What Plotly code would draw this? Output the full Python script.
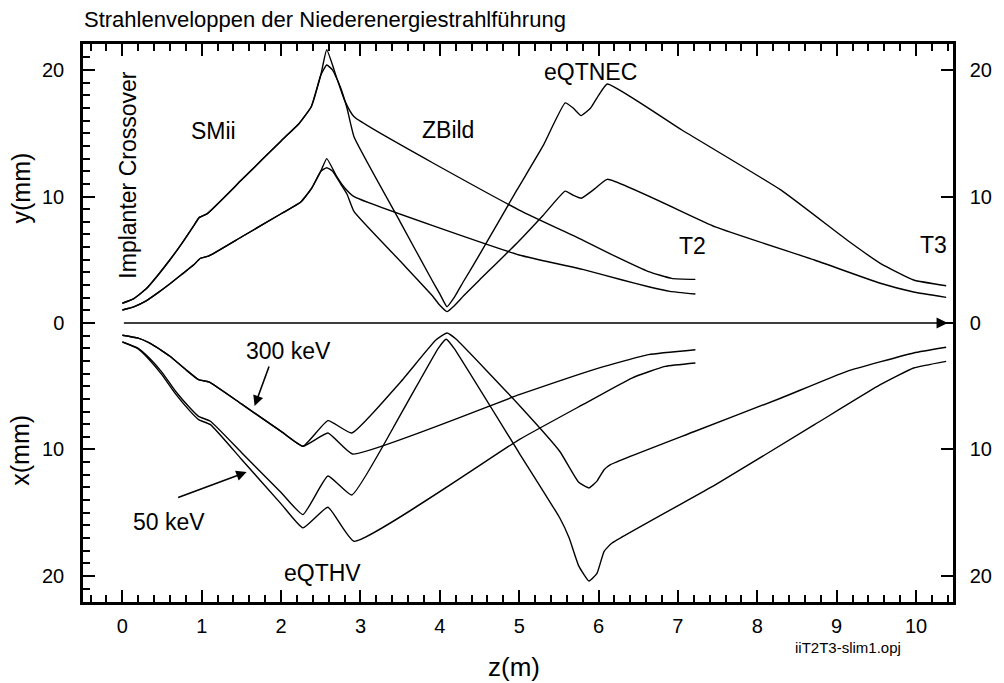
import plotly.graph_objects as go

# ---------------- data ----------------
# Upper half: y-envelope (mm), plotted upward
Z_UB_COMMON = [0.0, 0.15, 0.3, 0.45, 0.6, 0.75, 0.9, 0.97, 1.07, 1.5, 2.0, 2.23, 2.38, 2.5]
Y_UB_COMMON = [1.56, 1.95, 2.7, 3.8, 5.0, 6.3, 7.7, 8.35, 8.65, 11.3, 14.4, 15.8, 17.1, 19.6]

Z_UB_T2 = [2.575, 2.7, 2.8, 2.92, 5.0, 5.8, 6.22, 6.63, 6.92, 7.22]
Y_UB_T2 = [21.6, 19.4, 17.6, 16.3, 8.93, 6.56, 5.24, 4.06, 3.53, 3.45]

Z_UB_T3 = [2.575, 2.65, 2.75, 2.83, 2.92, 3.5, 3.9, 4.0, 4.09, 4.18, 4.3, 4.5, 4.97, 5.3,
           5.58, 5.68, 5.78, 5.9, 6.0, 6.11, 7.05, 8.3, 9.13, 9.55, 9.97, 10.38]
Y_UB_T3 = [20.4, 20.0, 18.6, 17.0, 14.7, 8.0, 3.4, 2.3, 1.29, 2.0, 3.3, 5.4, 10.5, 14.0,
           17.4, 17.0, 16.4, 17.0, 18.0, 18.9, 15.26, 10.5, 6.56, 4.72, 3.4, 2.95]

Z_US_COMMON = [0.0, 0.15, 0.3, 0.45, 0.6, 0.75, 0.9, 0.98, 1.09, 1.5, 2.0, 2.245, 2.38, 2.5]
Y_US_COMMON = [1.03, 1.3, 1.75, 2.4, 3.1, 3.85, 4.6, 5.1, 5.3, 6.8, 8.64, 9.54, 10.6, 12.0]

Z_US_T2 = [2.575, 2.7, 2.8, 2.92, 5.0, 5.8, 6.3, 6.63, 6.9, 7.22]
Y_US_T2 = [13.0, 11.6, 10.7, 9.99, 5.38, 4.24, 3.4, 2.87, 2.5, 2.29]

Z_US_T3 = [2.575, 2.65, 2.75, 2.83, 2.92, 3.5, 3.9, 4.0, 4.09, 4.18, 4.3, 4.5, 4.97, 5.3,
           5.58, 5.68, 5.78, 5.95, 6.11, 7.47, 8.72, 9.55, 9.97, 10.38]
Y_US_T3 = [12.28, 12.0, 11.0, 10.2, 8.8, 4.9, 2.2, 1.4, 0.9, 1.35, 2.15, 3.4, 6.3, 8.5,
           10.43, 10.1, 9.86, 10.6, 11.36, 7.6, 4.98, 3.14, 2.45, 2.03]

# Lower half: x-envelope (mm), plotted downward (negative)
Z_L300_COMMON = [0.0, 0.2, 0.34, 0.5, 0.6, 0.8, 0.96, 1.09, 1.5, 2.0, 2.275]
X_L300_COMMON = [-0.97, -1.2, -1.58, -2.2, -2.63, -3.69, -4.48, -4.66, -6.4, -8.57, -9.75]

Z_L300_T2 = [2.59, 2.9, 5.0, 6.01, 6.63, 7.22]
X_L300_T2 = [-8.7, -10.36, -5.67, -3.55, -2.5, -2.11]

Z_L300_T3 = [2.59, 2.89, 3.5, 3.95, 4.09, 4.2, 5.0, 5.51, 5.75, 5.88, 5.98, 6.07, 6.15,
             7.2, 8.3, 9.13, 9.97, 10.38]
X_L300_T3 = [-7.72, -8.7, -4.7, -1.35, -0.79, -1.25, -6.5, -10.14, -12.6, -13.04, -12.5, -11.6, -11.2,
             -8.6, -5.93, -3.82, -2.37, -1.92]

Z_L50A = [0.0, 0.2, 0.34, 0.5, 0.67, 0.85, 0.96, 1.11, 1.5, 2.0, 2.275, 2.59, 2.89, 3.5,
          3.98, 4.08, 4.18, 5.0, 5.51, 5.63, 5.75, 5.88, 5.98, 6.07, 6.17, 7.47, 8.72, 9.55, 9.97, 10.38]
X_L50A = [-1.5, -2.0, -2.77, -3.9, -5.4, -6.7, -7.38, -7.77, -10.24, -13.4, -15.15, -12.1, -13.6, -7.3,
          -2.0, -1.28, -2.0, -10.28, -15.4, -17.0, -19.2, -20.4, -19.8, -18.05, -17.4, -12.8, -8.04, -4.88, -3.56, -3.03]

Z_L50B = [0.0, 0.2, 0.34, 0.5, 0.67, 0.85, 0.96, 1.11, 1.5, 2.0, 2.275, 2.59, 2.92, 5.0,
          5.8, 6.42, 6.84, 7.22]
X_L50B = [-1.5, -2.05, -2.9, -4.1, -5.6, -6.95, -7.64, -8.04, -10.77, -14.3, -16.2, -14.57, -17.26, -9.22,
          -6.46, -4.35, -3.43, -3.16]

Y_TICKVALS = [-20, -10, 0, 10, 20]
Y_TICKTEXT = ["20", "10", "0", "10", "20"]

FONT = "Liberation Sans, Arial, Helvetica, sans-serif"

# ---------------- figure ----------------
fig = go.Figure()

curves = [
    (Z_UB_COMMON + Z_UB_T2, Y_UB_COMMON + Y_UB_T2, "y"),
    (Z_UB_COMMON + Z_UB_T3, Y_UB_COMMON + Y_UB_T3, "y"),
    (Z_US_COMMON + Z_US_T2, Y_US_COMMON + Y_US_T2, "y"),
    (Z_US_COMMON + Z_US_T3, Y_US_COMMON + Y_US_T3, "y"),
    (Z_L300_COMMON + Z_L300_T2, X_L300_COMMON + X_L300_T2, "y2"),
    (Z_L300_COMMON + Z_L300_T3, X_L300_COMMON + X_L300_T3, "y2"),
    (Z_L50A, X_L50A, "y2"),
    (Z_L50B, X_L50B, "y2"),
]
for zs, vs, ax in curves:
    fig.add_trace(go.Scatter(x=zs, y=vs, mode="lines", yaxis=ax,
                             line=dict(color="black", width=1.4, shape="spline", smoothing=0.4),
                             hoverinfo="skip", showlegend=False))

XR = [-0.496, 10.466]
YR = [-22.06, 22.06]
TICKSIZE = 20

fig.update_layout(
    width=1004, height=683, autosize=False,
    margin=dict(l=83, r=44, t=44, b=81),
    paper_bgcolor="white", plot_bgcolor="white",
    font=dict(family=FONT, color="black", size=TICKSIZE),
    showlegend=False,
    xaxis=dict(range=XR, showline=True, linecolor="black", linewidth=2.5, mirror="ticks",
               ticks="inside", ticklen=12, tickwidth=2, tickcolor="black",
               tick0=0, dtick=1, showgrid=False, zeroline=False,
               tickfont=dict(size=TICKSIZE), ticklabelstandoff=4,
               minor=dict(ticks="inside", tick0=0, dtick=0.2, ticklen=7, tickwidth=1.5,
                          tickcolor="black", showgrid=False)),
    yaxis=dict(range=YR, showline=True, linecolor="black", linewidth=2.5,
               ticks="inside", ticklen=12, tickwidth=2, tickcolor="black",
               tickmode="array", tickvals=Y_TICKVALS, ticktext=Y_TICKTEXT,
               showgrid=False, zeroline=False, tickfont=dict(size=TICKSIZE), ticklabelstandoff=12,
               minor=dict(ticks="inside", tick0=0, dtick=1, ticklen=7, tickwidth=1.5,
                          tickcolor="black", showgrid=False)),
    yaxis2=dict(range=YR, overlaying="y", side="right", anchor="x",
                showline=True, linecolor="black", linewidth=2.5,
                ticks="inside", ticklen=12, tickwidth=2, tickcolor="black",
                tickmode="array", tickvals=Y_TICKVALS, ticktext=Y_TICKTEXT,
                showgrid=False, zeroline=False, tickfont=dict(size=TICKSIZE), ticklabelstandoff=10),
)

ann = []
# zero axis arrow
ann.append(dict(x=10.40, y=0, ax=0.0, ay=0, xref="x", yref="y", axref="x", ayref="y",
                showarrow=True, arrowhead=2, arrowsize=1.4, arrowwidth=1.6, arrowcolor="black", text=""))
# energy arrows
ann.append(dict(x=1.666, y=-6.56, ax=15, ay=-41, xref="x", yref="y", text="",
                showarrow=True, arrowhead=2, arrowsize=1.3, arrowwidth=1.6, arrowcolor="black"))
ann.append(dict(x=1.566, y=-11.78, ax=-70, ay=26, xref="x", yref="y", text="",
                showarrow=True, arrowhead=2, arrowsize=1.3, arrowwidth=1.6, arrowcolor="black"))

labels = [
    ("SMii", 1.148, 15.18), ("ZBild", 4.10, 15.26), ("eQTNEC", 5.90, 19.84),
    ("T2", 7.18, 6.09), ("T3", 10.22, 6.17),
    ("300 keV", 2.09, -2.21), ("50 keV", 0.59, -15.73), ("eQTHV", 2.52, -19.76),
]
for t, xx, yy in labels:
    ann.append(dict(x=xx, y=yy, xref="x", yref="y", text=t, showarrow=False,
                    font=dict(size=23), xanchor="center", yanchor="middle"))
ann.append(dict(x=0.066, y=11.7, xref="x", yref="y", text="Implanter Crossover", textangle=-90,
                showarrow=False, font=dict(size=23), xanchor="center", yanchor="middle"))

# title and axis titles
ann.append(dict(x=-0.001, y=1.0448, xref="paper", yref="paper", text="Strahlenveloppen der Niederenergiestrahlführung",
                showarrow=False, font=dict(size=22), xanchor="left", yanchor="middle"))
ann.append(dict(x=0.495, y=-0.1165, xref="paper", yref="paper", text="z(m)",
                showarrow=False, font=dict(size=26), xanchor="center", yanchor="middle"))
ann.append(dict(x=(20 - 83) / 877, y=0.742, xref="paper", yref="paper", text="y(mm)", textangle=-90,
                showarrow=False, font=dict(size=25), xanchor="center", yanchor="middle"))
ann.append(dict(x=(20 - 83) / 877, y=0.272, xref="paper", yref="paper", text="x(mm)", textangle=-90,
                showarrow=False, font=dict(size=25), xanchor="center", yanchor="middle"))
ann.append(dict(x=0.879, y=(602 - 647) / 558, xref="paper", yref="paper", text="iiT2T3-slim1.opj",
                showarrow=False, font=dict(size=15), xanchor="center", yanchor="middle"))

fig.update_layout(annotations=ann)

fig.write_html("out.html")
